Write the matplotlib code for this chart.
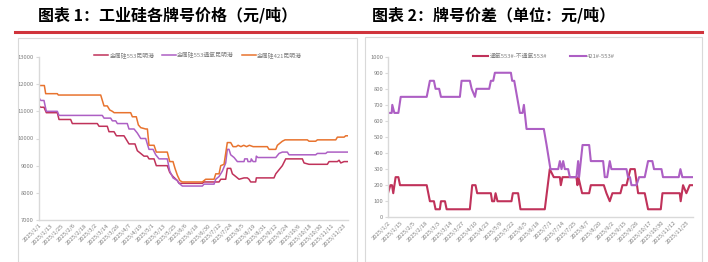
import numpy as np
import matplotlib.pyplot as plt
from matplotlib.patches import Rectangle
from matplotlib.lines import Line2D

plt.rcParams['font.family'] = ['Noto Sans CJK SC', 'DejaVu Sans']

# =========================
# DADOS - GRÁFICO 1 (índice do dia, preço em 元/吨)
# =========================
p553_x = [0, 1.8, 5.3, 7.8, 19.5, 21.3, 33.7, 35.5, 62.1, 63.9, 72.7, 74.5, 79.9, 82.4, 90.5, 92.3,
          95.8, 102.2, 104.7, 108.3, 111.8, 115.4, 117.1, 122.5, 124.9, 136.6, 139.2, 142.7, 147.3,
          149.1, 173.9, 175.7, 191.7, 193.5, 198.8, 200.5, 204.1, 205.9, 209.5, 213, 218.3, 221.8,
          223.6, 225.4, 230.7, 231.4, 250.2, 252.1, 255.6, 259.1, 262.7, 280.4, 282.2, 287.5, 307,
          308.8, 317.7, 319.5, 321.3, 324.8, 328.3]
p553_y = [11200, 11150, 11150, 10950, 10950, 10700, 10700, 10550, 10550, 10450, 10450, 10250, 10250,
          10100, 10100, 10000, 9800, 9800, 9550, 9450, 9350, 9350, 9250, 9250, 9000, 9000, 8750, 8600,
          8450, 8350, 8350, 8400, 8400, 8500, 8500, 8900, 8900, 8700, 8600, 8500, 8550, 8550, 8500,
          8400, 8400, 8550, 8550, 8700, 8850, 9000, 9250, 9250, 9100, 9050, 9050, 9150, 9150, 9200,
          9100, 9150, 9150]

p553o_x = [0, 1.8, 5.3, 7.8, 19.5, 21.3, 67.4, 69.2, 76.3, 78.1, 81.7, 83.4, 94, 95.8, 101.2, 104.7,
           108.3, 113.6, 117.1, 121.4, 124.3, 127.8, 136.6, 139.2, 142.7, 147.3, 149.1, 152.6, 173.9,
           175.7, 186.4, 188.2, 191.7, 195.2, 198.8, 200.5, 202.3, 204.1, 207.7, 211.2, 218.3, 219,
           221.8, 222.5, 225.4, 226, 228, 230.7, 231.4, 233, 252.1, 255.6, 259.1, 264.4, 266.2, 294.6,
           296.4, 305.3, 307, 328.3]
p553o_y = [11500, 11400, 11400, 11000, 11000, 10850, 10850, 10750, 10750, 10650, 10650, 10550, 10550,
           10350, 10350, 10200, 10000, 10000, 9600, 9600, 9400, 9250, 9250, 8800, 8550, 8450, 8350,
           8250, 8250, 8320, 8320, 8500, 8600, 8800, 9100, 9600, 9600, 9400, 9300, 9150, 9150, 9250,
           9250, 9150, 9150, 9250, 9150, 9150, 9350, 9300, 9300, 9450, 9500, 9500, 9400, 9400, 9450,
           9450, 9500, 9500]

p421_x = [0, 5.7, 7.1, 19.5, 20.6, 65.7, 69.2, 72.7, 75.3, 78.1, 80, 97.6, 99.4, 103.6, 105.8, 108.3,
          113.6, 115.4, 117.1, 122.5, 124.9, 136.6, 139.2, 142.7, 144.8, 147.3, 150, 152.6, 173.9,
          175.7, 177.5, 186.4, 188.2, 191.7, 193.5, 197, 200.5, 204.1, 206.6, 210, 212, 215, 218, 221,
          224, 228, 243.1, 244.9, 252.1, 253.8, 259.1, 262, 285.7, 287.5, 294.6, 296.4, 316, 317.7,
          324.8, 326.6, 328.3]
p421_y = [11950, 11950, 11650, 11650, 11600, 11600, 11200, 11200, 11050, 11000, 10950, 10950, 10800,
          10800, 10500, 10400, 10350, 10350, 9750, 9750, 9500, 9500, 9150, 9150, 8900, 8650, 8450,
          8400, 8400, 8450, 8500, 8500, 8700, 8700, 9000, 9050, 9850, 9850, 9700, 9700, 9750, 9700,
          9750, 9700, 9750, 9700, 9700, 9600, 9600, 9750, 9900, 9950, 9950, 9900, 9900, 9950, 9950,
          10050, 10050, 10100, 10100]

ticks1 = ['2025/1/1', '2025/1/13', '2025/1/25', '2025/2/6', '2025/2/18', '2025/3/2', '2025/3/14',
          '2025/3/26', '2025/4/7', '2025/4/19', '2025/5/1', '2025/5/13', '2025/5/25', '2025/6/6',
          '2025/6/18', '2025/6/30', '2025/7/12', '2025/7/24', '2025/8/5', '2025/8/19', '2025/8/31',
          '2025/9/12', '2025/9/24', '2025/10/6', '2025/10/18', '2025/10/30', '2025/11/11',
          '2025/11/23']

# =========================
# DADOS - GRÁFICO 2 (índice do dia útil, diferença em 元/吨)
# =========================
d_oxy_x = [0, 1.7, 2.9, 3.8, 5.5, 7.5, 8.7, 28, 30.3, 33.2, 34.4, 37.5, 38.3, 41.2, 42.4, 59.2, 60.9,
           63.3, 64.5, 74.4, 75.3, 76.8, 77.8, 79.2, 89.3, 90.3, 94.1, 95.8, 113.4, 117, 119.9, 124.3,
           125, 126.2, 136.3, 137, 137.7, 140.4, 145.5, 146.7, 156.1, 158, 160.4, 162.3, 168.1, 169.6,
           172.5, 175.3, 178.5, 180.9, 185.7, 186.9, 188.1, 197.3, 198.5, 211, 211.7, 213.4, 215.8,
           218.2, 220.6]
d_oxy_y = [150, 200, 200, 150, 250, 250, 200, 200, 100, 100, 50, 50, 100, 100, 50, 50, 200, 200, 150,
           150, 100, 100, 150, 100, 100, 150, 150, 50, 50, 300, 250, 250, 200, 250, 250, 200, 250, 150,
           150, 200, 200, 150, 100, 150, 150, 200, 200, 300, 300, 150, 150, 100, 50, 50, 150, 150, 100,
           200, 150, 200, 200]

d_421_x = [0, 2.7, 3.1, 4.6, 7.5, 9.2, 28, 30.3, 33.2, 34.4, 37, 38.3, 52, 53.2, 59.2, 60.5, 62.9, 64,
           73.2, 74.4, 76.1, 77.3, 88.9, 89.8, 91.3, 95.4, 97.3, 98.3, 100.2, 112.7, 114.7, 117.5,
           123.1, 124.3, 125.5, 126.7, 127.9, 130.3, 131.5, 136.3, 137.5, 138.2, 140.7, 145.5, 146.7,
           155.6, 156.8, 158.5, 160.4, 161.6, 172.5, 173.6, 175, 176.1, 179.7, 181.6, 185.7, 188.1,
           191.2, 192.4, 197.8, 198.9, 210.3, 211.5, 212.9, 220.6]
d_421_y = [650, 650, 700, 650, 650, 750, 750, 850, 850, 800, 800, 750, 750, 850, 850, 800, 750, 800,
           800, 850, 850, 900, 900, 850, 850, 650, 650, 700, 550, 550, 450, 300, 300, 350, 300, 350,
           300, 300, 250, 250, 350, 250, 450, 450, 350, 350, 250, 250, 350, 300, 300, 250, 250, 200,
           200, 250, 250, 350, 350, 300, 300, 250, 250, 300, 250, 250]

ticks2 = ['2025/1/2', '2025/1/15', '2025/2/5', '2025/2/18', '2025/3/3', '2025/3/14', '2025/3/27',
          '2025/4/10', '2025/4/23', '2025/5/9', '2025/5/22', '2025/6/5', '2025/6/18', '2025/7/1',
          '2025/7/14', '2025/7/25', '2025/8/7', '2025/8/20', '2025/9/2', '2025/9/15', '2025/9/26',
          '2025/10/17', '2025/10/30', '2025/11/12', '2025/11/25']

COR_VERM = '#c0325a'
COR_ROXO = '#ad5fc4'
COR_LARA = '#e8732e'
CINZA = '#d9d9d9'
TXT = '#7f7f7f'

W, H = 708, 262
fig = plt.figure(figsize=(W / 100, H / 100), dpi=100)


def fx(px):
    return px / W


def fy(py):
    return 1 - py / H


# títulos, linha vermelha e caixas
fig.text(fx(38), fy(15), '图表 1：工业硅各牌号价格（元/吨）', fontsize=11.5, fontweight='bold',
         va='center', ha='left')
fig.text(fx(372), fy(15), '图表 2：牌号价差（单位：元/吨）', fontsize=11.5, fontweight='bold',
         va='center', ha='left')
fig.add_artist(Line2D([fx(15), fx(702)], [fy(32), fy(32)], color='#d0343c', lw=2.2))
fig.add_artist(Rectangle((fx(18), 0), fx(357 - 18), fy(38), fill=False, ec=CINZA, lw=0.8))
fig.add_artist(Rectangle((fx(365), 0), fx(702 - 365), fy(37), fill=False, ec=CINZA, lw=0.8))


def estilo(ax, ticks, labels):
    for s in ['top', 'right']:
        ax.spines[s].set_visible(False)
    for s in ['left', 'bottom']:
        ax.spines[s].set_color(CINZA)
        ax.spines[s].set_linewidth(1.0)
    ax.set_xticks(ticks)
    ax.set_xticklabels(labels, rotation=45, ha='right', rotation_mode='anchor')
    ax.tick_params(axis='x', length=0, labelsize=4.2, labelcolor=TXT, pad=2)
    ax.tick_params(axis='y', length=2, color=CINZA, labelsize=4.2, labelcolor=TXT, pad=1.5)


# =========================
# GRÁFICO 1
# =========================
ax1 = fig.add_axes([fx(39), fy(220), fx(348 - 39), (220 - 57) / H])
ax1.plot(p553_x, p553_y, color=COR_VERM, lw=1.1, label='金属硅553昆明港')
ax1.plot(p553o_x, p553o_y, color=COR_ROXO, lw=1.1, label='金属硅553通氧昆明港')
ax1.plot(p421_x, p421_y, color=COR_LARA, lw=1.1, label='金属硅421昆明港')
ax1.set_ylim(7000, 13000)
ax1.set_yticks(np.arange(7000, 13001, 1000))
ax1.set_xlim(0, 329)
estilo(ax1, np.arange(0, 12 * len(ticks1), 12), ticks1)
ax1.legend(loc='center', bbox_to_anchor=(fx(198), fy(55)), bbox_transform=fig.transFigure,
           ncol=3, frameon=False, fontsize=4.2, labelcolor=TXT, handlelength=2.4,
           handletextpad=0.2, columnspacing=1.3)

# =========================
# GRÁFICO 2
# =========================
ax2 = fig.add_axes([fx(388), fy(217.3), fx(693 - 388), (217.3 - 56.7) / H])
ax2.plot(d_oxy_x, d_oxy_y, color=COR_VERM, lw=1.5, label='通氧553#-不通氧553#')
ax2.plot(d_421_x, d_421_y, color=COR_ROXO, lw=1.5, label='421#-553#')
ax2.set_ylim(0, 1000)
ax2.set_yticks(np.arange(0, 1001, 100))
ax2.set_xlim(0, 220.6)
estilo(ax2, np.arange(0, 9 * len(ticks2), 9), ticks2)
ax2.legend(loc='center', bbox_to_anchor=(fx(544), fy(56)), bbox_transform=fig.transFigure,
           ncol=2, frameon=False, fontsize=4.2, labelcolor=TXT, handlelength=2.6,
           handletextpad=0.3, columnspacing=4.0)

fig.savefig('out.png', dpi=100)
